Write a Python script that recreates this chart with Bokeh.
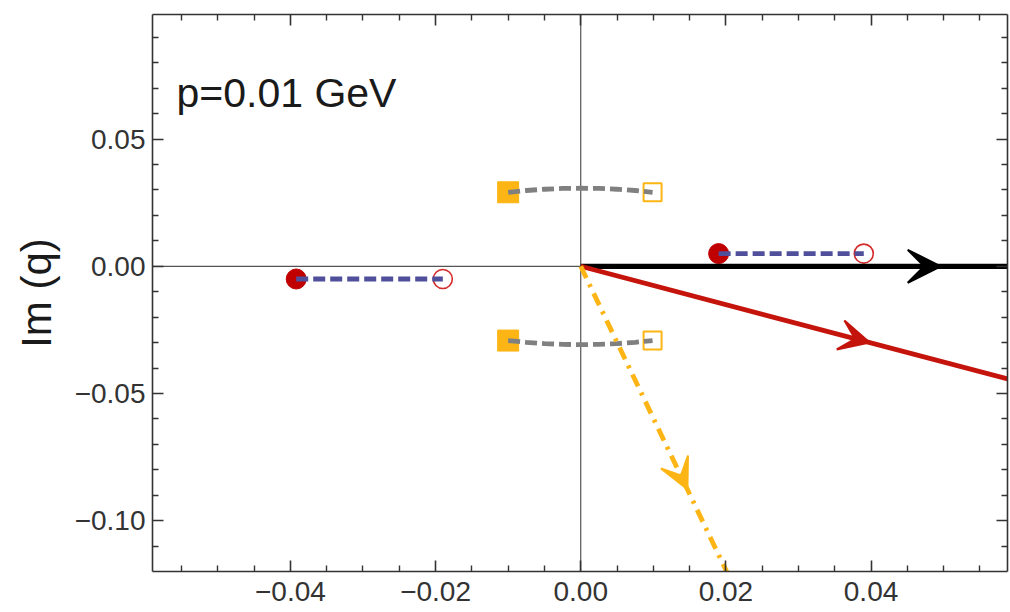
from bokeh.plotting import figure
from bokeh.models import (Range1d, LinearAxis, FixedTicker, CustomJSTickFormatter,
                          Span, Arrow, VeeHead)
from bokeh.core.properties import value
from bokeh.embed import file_html
from bokeh.resources import INLINE

# ---------------- data ----------------
x_lim = [-0.059, 0.0588]
y_lim = [-0.12, 0.099]

x_major = [-0.04, -0.02, 0.0, 0.02, 0.04]
x_minor = [-0.055, -0.05, -0.045, -0.035, -0.03, -0.025, -0.015, -0.01, -0.005,
           0.005, 0.01, 0.015, 0.025, 0.03, 0.035, 0.045, 0.05, 0.055]
y_major = [-0.10, -0.05, 0.0, 0.05]
y_minor = [-0.11, -0.09, -0.08, -0.07, -0.06, -0.04, -0.03, -0.02, -0.01,
           0.01, 0.02, 0.03, 0.04, 0.06, 0.07, 0.08, 0.09]

# poles (red circles): filled start, open end
pole_fill_x = [-0.0392, 0.0190]
pole_fill_y = [-0.005, 0.005]
pole_open_x = [-0.0190, 0.0390]
pole_open_y = [-0.005, 0.005]

# orange squares
sq_fill_x = [-0.0100, -0.0100]
sq_fill_y = [0.0291, -0.0292]
sq_open_x = [0.0099, 0.0099]
sq_open_y = [0.0291, -0.0292]

# gray arcs
arc_x = [-0.0100, -0.0075, -0.0050, -0.0025, 0.0, 0.0025, 0.0050, 0.0075, 0.0099]
arc_upper_y = [0.0291, 0.0298, 0.0303, 0.0306, 0.0307, 0.0306, 0.0303, 0.0298, 0.0291]
arc_lower_y = [-0.0292, -0.0299, -0.0304, -0.0307, -0.0308, -0.0307, -0.0304, -0.0299, -0.0292]

# contour rays from origin
black_x = [0.0, 0.06]
black_y = [0.0, 0.0]
red_x = [0.0, 0.06]
red_y = [0.0, -0.0452]
orange_x = [0.0, 0.0205]
orange_y = [0.0, -0.1224]

# arrowhead tips on the rays
tip_x = [0.0496, 0.0398, 0.0147]
tip_y = [0.0, -0.0300, -0.0876]
tip_colors = ["black", "#c4140c", "#fcb514"]
tip_sizes = [33, 30, 30]

label_text = ["p=0.01 GeV"]
label_x = [-0.0557]
label_y = [0.0683]

FONT = "Liberation Sans"
RED = "#c4140c"
DOT_RED = "#c00000"
ORANGE = "#fcb514"
BLUE = "#4f4f9b"
GRAY = "#808080"

p = figure(width=1010, height=612, output_backend="svg", toolbar_location=None,
           x_range=Range1d(*x_lim), y_range=Range1d(*y_lim),
           min_border_left=152, min_border_right=3, min_border_top=14, min_border_bottom=41,
           x_axis_location=None, y_axis_location=None)
p.grid.visible = False
p.outline_line_color = None
p.background_fill_color = "white"
p.border_fill_color = "white"

fmt = CustomJSTickFormatter(code="""
    var s = Math.abs(tick).toFixed(2);
    return (tick < -1e-9 ? '\u2212' : '') + s;
""")
blank = CustomJSTickFormatter(code="return '';")


def style_axis(ax, labels=True):
    ax.axis_line_color = "#333333"
    ax.axis_line_width = 1.6
    ax.major_tick_in = 11
    ax.major_tick_out = 0
    ax.minor_tick_in = 6
    ax.minor_tick_out = 0
    ax.major_tick_line_color = "#333333"
    ax.major_tick_line_width = 1.6
    ax.minor_tick_line_color = "#333333"
    ax.minor_tick_line_width = 1.4
    ax.major_label_text_font = FONT
    ax.major_label_text_font_size = "28px"
    ax.major_label_text_color = "#333333"
    if not labels:
        ax.formatter = blank
        ax.major_label_standoff = 0
        ax.major_label_text_font_size = "0px"


xt = FixedTicker(ticks=x_major, minor_ticks=x_minor)
yt = FixedTicker(ticks=y_major, minor_ticks=y_minor)

bottom = LinearAxis(ticker=xt, formatter=fmt)
style_axis(bottom)
bottom.major_label_standoff = 10
p.add_layout(bottom, "below")

left = LinearAxis(ticker=yt, formatter=fmt, axis_label="Im (q)")
style_axis(left)
left.major_label_standoff = 7
left.axis_label_text_font = FONT
left.axis_label_text_font_size = "42px"
left.axis_label_text_font_style = "normal"
left.axis_label_text_color = "#1a1a1a"
left.axis_label_standoff = 12
p.add_layout(left, "left")

top = LinearAxis(ticker=xt)
style_axis(top, labels=False)
p.add_layout(top, "above")

right = LinearAxis(ticker=yt)
style_axis(right, labels=False)
p.add_layout(right, "right")

# origin axes (underneath everything)
p.add_layout(Span(location=0, dimension="width", line_color="#555555", line_width=1.2,
                  level="underlay"))
p.add_layout(Span(location=0, dimension="height", line_color="#555555", line_width=1.2,
                  level="underlay"))

# markers first (lines drawn on top of them)
p.scatter(pole_fill_x, pole_fill_y, marker="circle", size=20, fill_color=DOT_RED, line_color=DOT_RED)
p.scatter(pole_open_x, pole_open_y, marker="circle", size=19, fill_color=None,
          line_color="#d42a2a", line_width=1.6)
p.scatter(sq_fill_x, sq_fill_y, marker="square", size=21, fill_color=ORANGE, line_color=ORANGE)
p.scatter(sq_open_x, sq_open_y, marker="square", size=18, fill_color=None,
          line_color=ORANGE, line_width=2)

# dashed trajectories
for i in range(len(pole_fill_x)):
    p.line([pole_fill_x[i], pole_open_x[i]], [pole_fill_y[i], pole_open_y[i]],
           line_color=BLUE, line_width=4.8, line_dash="12 5")
p.line(arc_x, arc_upper_y, line_color=GRAY, line_width=4.8, line_dash="12 5")
p.line(arc_x, arc_lower_y, line_color=GRAY, line_width=4.8, line_dash="12 5")

# rays
p.line(black_x, black_y, line_color="black", line_width=5.2)
p.line(red_x, red_y, line_color=RED, line_width=4.8)
p.line(orange_x, orange_y, line_color=ORANGE, line_width=4.8, line_dash="13 7 3 7")

for tx, ty, c, s in zip(tip_x, tip_y, tip_colors, tip_sizes):
    p.add_layout(Arrow(end=VeeHead(size=s, fill_color=c, line_color=c, line_width=2),
                       x_start=tx * 0.9, y_start=ty * 0.9, x_end=tx, y_end=ty,
                       line_alpha=0, line_width=0))

p.text(x=label_x, y=label_y, text=label_text, text_font=value(FONT),
       text_font_size="41px", text_color="#1a1a1a", text_baseline="alphabetic",
       text_align="left")

open("out.html", "w").write(file_html(p, INLINE))
